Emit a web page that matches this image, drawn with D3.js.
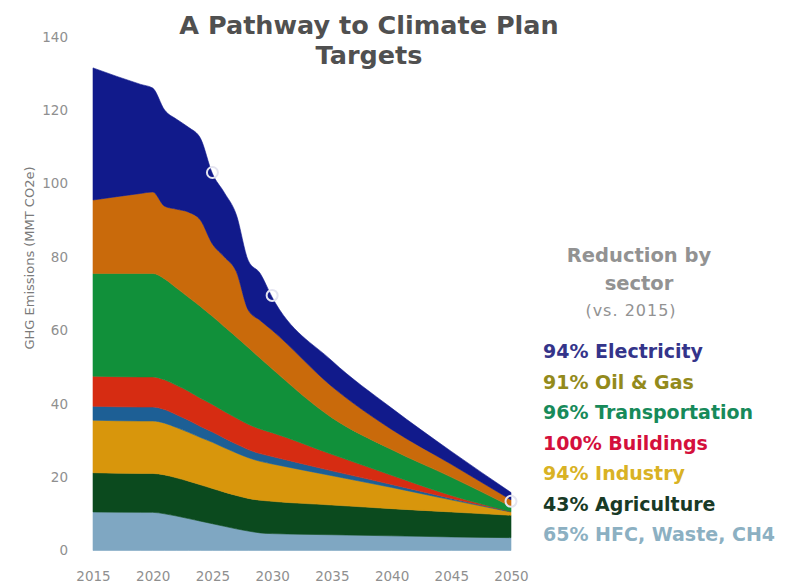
<!DOCTYPE html>
<html>
<head>
<meta charset="utf-8">
<script src="https://cdn.jsdelivr.net/npm/d3@7"></script>
<style>
  html, body { margin: 0; padding: 0; background: #fff; }
  svg { display: block; }
</style>
</head>
<body>
<svg id="chart" width="787" height="587"></svg>
<script>
// ---- data ----
const years = [2015, 2019, 2020, 2021, 2022, 2023, 2024, 2025, 2026, 2027, 2028, 2029, 2030, 2035, 2040, 2045, 2050];
const hfc            = [10.5, 10.4, 10.4, 10.0, 9.4, 8.7, 8.0, 7.3, 6.6, 5.9, 5.3, 4.8, 4.6, 4.3, 4.0, 3.7, 3.5];
const agriculture    = [10.7, 10.6, 10.6, 10.6, 10.4, 10.2, 9.9, 9.6, 9.3, 9.1, 8.9, 8.9, 8.8, 8.1, 7.4, 6.8, 6.1];
const industry       = [14.3, 14.3, 14.3, 14.1, 13.7, 13.3, 12.9, 12.6, 12.1, 11.6, 11.1, 10.6, 10.2, 8.0, 5.8, 3.3, 0.9];
const other          = [3.8, 3.8, 3.8, 3.7, 3.5, 3.3, 3.0, 2.8, 2.6, 2.4, 2.2, 2.1, 2.0, 1.3, 0.8, 0.4, 0.1];
const buildings      = [8.2, 8.2, 8.2, 8.1, 8.0, 7.9, 7.7, 7.5, 7.3, 7.1, 6.9, 6.7, 6.5, 4.5, 2.5, 0.8, 0.0];
const transportation = [28.0, 28.2, 28.2, 27.5, 26.5, 25.6, 25.0, 24.0, 23.1, 22.1, 20.9, 19.3, 17.4, 10.0, 7.0, 5.0, 1.4];
const oilGas         = [20.0, 21.8, 22.2, 19.8, 21.5, 23.2, 23.5, 19.7, 19.0, 17.8, 10.2, 10.3, 10.5, 8.5, 5.5, 3.5, 1.8];
const electricity    = [36.0, 29.7, 28.3, 26.2, 24.5, 23.1, 22.3, 19.2, 17.5, 15.5, 13.5, 12.8, 9.0, 7.0, 5.8, 3.5, 2.0];

const targetYears  = [2025, 2030, 2050];
const targetValues = [103, 69.5, 13.4];

const yTicks = [0, 20, 40, 60, 80, 100, 120, 140];
const xTicks = [2015, 2020, 2025, 2030, 2035, 2040, 2045, 2050];

const seriesKeys   = ["hfc", "agriculture", "industry", "other", "buildings", "transportation", "oilGas", "electricity"];
const seriesColors = ["#7fa7c2", "#0b4a1e", "#d8960c", "#1d5f95", "#d62c12", "#11903a", "#c96a0b", "#111a8b"];

const legendLabels = ["94% Electricity", "91% Oil & Gas", "96% Transportation", "100% Buildings", "94% Industry", "43% Agriculture", "65% HFC, Waste, CH4"];
const legendColors = ["#34348a", "#938a1c", "#178a5a", "#d4103c", "#d9b224", "#183a26", "#8cb0c2"];

// ---- build table ----
const seriesValues = [hfc, agriculture, industry, other, buildings, transportation, oilGas, electricity];
const table = years.map((yr, i) => {
  const row = { year: yr };
  seriesKeys.forEach((k, j) => row[k] = seriesValues[j][i]);
  return row;
});

const svg = d3.select("#chart");
const x = d3.scaleLinear().domain([2015, 2050]).range([93, 511]);
const y = d3.scaleLinear().domain([0, 140]).range([550.5, 36.7]);

const layers = d3.stack().keys(seriesKeys)(table);

const area = d3.area()
  .curve(d3.curveMonotoneX)
  .x(d => x(d.data.year))
  .y0(d => y(d[0]))
  .y1(d => y(d[1]));

svg.append("g").selectAll("path")
  .data(layers)
  .join("path")
  .attr("d", area)
  .attr("fill", (d, i) => seriesColors[i])
  .attr("stroke", (d, i) => seriesColors[i])
  .attr("stroke-width", 0.6);

// target circles
svg.append("g").selectAll("circle")
  .data(targetYears.map((t, i) => [t, targetValues[i]]))
  .join("circle")
  .attr("cx", d => x(d[0]))
  .attr("cy", d => y(d[1]))
  .attr("r", 5.5)
  .attr("fill", "none")
  .attr("stroke", "#e4e4f0")
  .attr("stroke-width", 2);

const FONT = "'DejaVu Sans', Verdana, sans-serif";

// axes
const yAxis = d3.axisLeft(y).tickValues(yTicks).tickSize(0).tickPadding(25);
const gy = svg.append("g").attr("transform", "translate(93,0)").call(yAxis);
gy.select(".domain").remove();
gy.selectAll("text").attr("font-family", FONT).attr("font-size", 13.5).attr("fill", "#8f8f8f");

const xAxis = d3.axisBottom(x).tickValues(xTicks).tickFormat(d3.format("d")).tickSize(0).tickPadding(20);
const gx = svg.append("g").attr("transform", "translate(0,551)").call(xAxis);
gx.select(".domain").remove();
gx.selectAll("text").attr("font-family", FONT).attr("font-size", 13.5).attr("fill", "#8f8f8f");

// y label
svg.append("text")
  .attr("transform", "translate(34,258) rotate(-90)")
  .attr("text-anchor", "middle")
  .attr("font-family", FONT)
  .attr("font-size", 13)
  .attr("fill", "#7a7a7a")
  .text("GHG Emissions (MMT CO2e)");

// title
const title = svg.append("text")
  .attr("text-anchor", "middle")
  .attr("font-family", FONT)
  .attr("font-weight", 700)
  .attr("font-size", 25.5)
  .attr("fill", "#505050");
title.append("tspan").attr("x", 369).attr("y", 33.5).text("A Pathway to Climate Plan");
title.append("tspan").attr("x", 369).attr("y", 64).text("Targets");

// reduction header
const hdr = svg.append("text")
  .attr("text-anchor", "middle")
  .attr("font-family", FONT)
  .attr("fill", "#929292");
hdr.append("tspan").attr("x", 639).attr("y", 262).attr("font-size", 19.5).attr("font-weight", 700).text("Reduction by");
hdr.append("tspan").attr("x", 639).attr("y", 290).attr("font-size", 19.5).attr("font-weight", 700).text("sector");
hdr.append("tspan").attr("x", 631).attr("y", 316).attr("font-size", 16).attr("letter-spacing", 1).text("(vs. 2015)");

// legend
svg.append("g").selectAll("text")
  .data(legendLabels)
  .join("text")
  .attr("x", 543)
  .attr("y", (d, i) => 358 + i * 30.5)
  .attr("font-family", FONT)
  .attr("font-weight", 700)
  .attr("font-size", 19)
  .attr("fill", (d, i) => legendColors[i])
  .text(d => d);
</script>
</body>
</html>
